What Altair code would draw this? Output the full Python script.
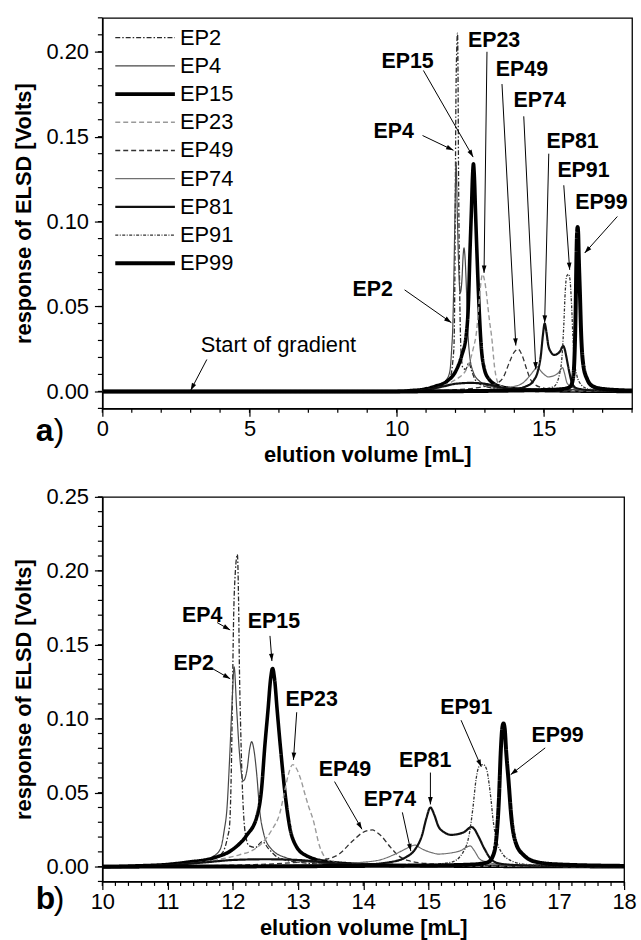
import math
import altair as alt
import pandas as pd

FONT = "Liberation Sans"

# ---------------- data ----------------
series_names = ["EP2", "EP4", "EP15", "EP23", "EP49", "EP74", "EP81", "EP91", "EP99"]

ep2_x = [0, 10, 11.0, 11.5, 11.7, 11.85, 11.92, 11.95, 11.98, 11.995, 12.01, 12.04, 12.07, 12.09,
         12.10, 12.12, 12.15, 12.19, 12.25, 12.35, 12.45, 12.55, 12.7, 13.0, 13.5, 14.5, 18]
ep2_y = [0, 0, 0.001, 0.003, 0.005, 0.01, 0.02, 0.0275, 0.072, 0.117, 0.162, 0.2, 0.211, 0.175,
         0.139, 0.095, 0.05, 0.023, 0.014, 0.013, 0.017, 0.012, 0.006, 0.003, 0.0015, 0.0005, 0]

ep4_x = [0, 10, 11.0, 11.5, 11.7, 11.81, 11.87, 11.91, 11.95, 11.99, 12.02, 12.06, 12.10, 12.16,
         12.22, 12.26, 12.29, 12.32, 12.37, 12.41, 12.47, 12.59, 12.82, 13.2, 13.6, 14.5, 18]
ep4_y = [0, 0, 0.0015, 0.004, 0.007, 0.012, 0.025, 0.039, 0.072, 0.112, 0.135, 0.106, 0.078, 0.058,
         0.066, 0.08, 0.0845, 0.08, 0.061, 0.039, 0.023, 0.012, 0.006, 0.003, 0.0015, 0.0005, 0]

ep15_x = [0, 10, 10.5, 11.0, 11.3, 11.71, 12.01, 12.21, 12.37, 12.44, 12.49, 12.54, 12.58, 12.61,
          12.64, 12.68, 12.73, 12.80, 12.87, 12.97, 13.13, 13.5, 14.0, 15.0, 18]
ep15_y = [0, 0, 0.0005, 0.0015, 0.003, 0.006, 0.012, 0.021, 0.034, 0.052, 0.081, 0.106, 0.127, 0.134,
          0.127, 0.106, 0.081, 0.05, 0.0275, 0.014, 0.0074, 0.003, 0.0015, 0.0005, 0]

ep23_x = [0, 10, 11.0, 11.8, 12.1, 12.3, 12.45, 12.6, 12.72, 12.8, 12.85, 12.92, 12.98, 13.05,
          13.10, 13.16, 13.23, 13.33, 13.48, 13.7, 14.5, 18]
ep23_y = [0, 0, 0.001, 0.005, 0.008, 0.011, 0.016, 0.025, 0.036, 0.052, 0.062, 0.069, 0.066, 0.058,
          0.05, 0.041, 0.032, 0.014, 0.004, 0.002, 0.001, 0]

ep49_x = [0, 10, 12.0, 13.0, 13.43, 13.63, 13.84, 13.99, 14.08, 14.14, 14.2, 14.27, 14.42, 14.54,
          14.7, 15.0, 15.5, 18]
ep49_y = [0, 0, 0.001, 0.003, 0.005, 0.0085, 0.0175, 0.023, 0.0245, 0.0248, 0.0235, 0.021, 0.013, 0.0074,
          0.004, 0.002, 0.001, 0]

ep74_x = [0, 10, 13.0, 14.0, 14.29, 14.49, 14.65, 14.74, 14.80, 14.86, 14.95, 15.05, 15.15, 15.3,
          15.4, 15.5, 15.6, 15.64, 15.7, 15.79, 15.91, 16.1, 16.5, 18]
ep74_y = [0, 0, 0.001, 0.003, 0.005, 0.0085, 0.012, 0.014, 0.0146, 0.013, 0.011, 0.0095, 0.0085, 0.009,
          0.0097, 0.011, 0.0135, 0.014, 0.011, 0.005, 0.003, 0.0015, 0.0005, 0]

ep81_x = [0, 10, 11.0, 11.6, 12.0, 12.5, 13.0, 13.5, 14.0, 14.4, 14.65, 14.8, 14.9, 14.97, 15.03,
          15.09, 15.15, 15.25, 15.35, 15.45, 15.55, 15.66, 15.71, 15.76, 15.86, 15.96, 16.1, 16.5, 18]
ep81_y = [0, 0, 0.001, 0.003, 0.0045, 0.005, 0.0045, 0.0025, 0.0015, 0.003, 0.0063, 0.012, 0.021, 0.033, 0.040,
          0.035, 0.0275, 0.023, 0.0215, 0.022, 0.0235, 0.0268, 0.025, 0.021, 0.012, 0.005, 0.002, 0.0008, 0]

ep91_x = [0, 10, 14.0, 15.0, 15.35, 15.53, 15.63, 15.68, 15.73, 15.78, 15.84, 15.89, 15.93, 15.96,
          15.99, 16.04, 16.12, 16.27, 16.5, 17.0, 18]
ep91_y = [0, 0, 0.0008, 0.0015, 0.003, 0.0097, 0.023, 0.039, 0.059, 0.068, 0.069, 0.066, 0.056, 0.045,
          0.032, 0.0186, 0.0097, 0.004, 0.0015, 0.0005, 0]

ep99_x = [0, 10, 15.0, 15.7, 15.91, 15.99, 16.04, 16.08, 16.11, 16.13, 16.15, 16.17, 16.19, 16.23,
          16.27, 16.34, 16.47, 16.67, 17.0, 18]
ep99_y = [0, 0, 0.0008, 0.0015, 0.003, 0.0074, 0.0186, 0.045, 0.079, 0.093, 0.0968, 0.093, 0.079, 0.057,
          0.034, 0.016, 0.0074, 0.003, 0.0015, 0.0005]

x_lists = [ep2_x, ep4_x, ep15_x, ep23_x, ep49_x, ep74_x, ep81_x, ep91_x, ep99_x]
y_lists = [ep2_y, ep4_y, ep15_y, ep23_y, ep49_y, ep74_y, ep81_y, ep91_y, ep99_y]

# axis tick values
major_a_x = [0, 5, 10, 15]
minor_a_x = list(range(0, 19))
major_a_y = [0.0, 0.05, 0.10, 0.15, 0.20]
minor_a_y = [round(-0.01 + 0.01 * i, 2) for i in range(24)]
major_b_x = list(range(10, 19))
minor_b_x = [round(10 + 0.2 * i, 1) for i in range(41)]
major_b_y = [0.0, 0.05, 0.10, 0.15, 0.20, 0.25]
minor_b_y = [round(-0.01 + 0.01 * i, 2) for i in range(27)]

# annotations of panel a (label, text centre, arrow start, arrow tip)
ann_a_label = ["EP15", "EP23", "EP49", "EP74", "EP81", "EP91", "EP99", "EP4", "EP2"]
ann_a_tx = [10.37, 13.31, 14.26, 14.86, 15.98, 16.35, 16.96, 9.90, 9.19]
ann_a_ty = [0.194, 0.2065, 0.189, 0.171, 0.147, 0.1296, 0.111, 0.153, 0.0598]
ann_a_sx = [10.91, 13.07, 13.58, 14.32, 15.17, 15.68, 17.5, 10.88, 10.27]
ann_a_sy = [0.189, 0.200, 0.181, 0.162, 0.140, 0.1214, 0.103, 0.1507, 0.0598]
ann_a_ex = [12.60, 12.97, 14.05, 14.73, 15.03, 15.88, 16.39, 11.93, 11.86]
ann_a_ey = [0.138, 0.0698, 0.027, 0.0129, 0.0405, 0.0716, 0.0815, 0.142, 0.0405]

grad_label = ["Start of gradient"]
grad_tx = [3.34]
grad_ty = [0.0276]
grad_sx = [3.55]
grad_sy = [0.0188]
grad_ex = [3.0]
grad_ey = [0.0006]

# annotations of panel b
ann_b_label = ["EP4", "EP15", "EP2", "EP23", "EP49", "EP74", "EP81", "EP91", "EP99"]
ann_b_tx = [11.53, 12.63, 11.40, 13.21, 13.72, 14.41, 14.95, 15.58, 16.98]
ann_b_ty = [0.1695, 0.1655, 0.137, 0.1125, 0.0655, 0.0447, 0.0716, 0.107, 0.0884]
ann_b_sx = [11.76, 12.57, 11.66, 12.98, 13.56, 14.60, 15.03, 15.50, 16.79]
ann_b_sy = [0.165, 0.156, 0.1346, 0.1044, 0.0575, 0.0367, 0.0636, 0.099, 0.0803]
ann_b_ex = [11.96, 12.60, 11.96, 12.93, 13.98, 14.73, 15.03, 15.81, 16.26]
ann_b_ey = [0.160, 0.139, 0.127, 0.0722, 0.0253, 0.0105, 0.0421, 0.0675, 0.0622]

# ---------------- styles ----------------
line_colors = ["#2a2a2a", "#474747", "#000000", "#9a9a9a", "#333333", "#707070", "#111111", "#333333", "#000000"]
line_widths = [1.3, 1.2, 3.6, 1.4, 1.3, 1.2, 2.2, 1.3, 4.0]
line_dashes = [[5, 2, 1.5, 2], [1, 0], [1, 0], [5, 3], [5, 3], [1, 0], [1, 0], [3, 1.5, 1, 1.5], [1, 0]]

W_A, H_A = 533, 393
W_B, H_B = 525, 387
XDOM_A, YDOM_A = [0, 18], [-0.01, 0.22]
XDOM_B, YDOM_B = [10, 18], [-0.01, 0.25]

ARROW = "M0,0L-0.45,1.4L0.45,1.4Z"


def series_frame():
    rows = []
    for name, xs, ys in zip(series_names, x_lists, y_lists):
        for xv, yv in zip(xs, ys):
            rows.append({"series": name, "x": xv, "y": yv})
    return pd.DataFrame(rows)


def ann_frame(label, tx, ty, sx, sy, ex, ey, kx, ky):
    angs = []
    for a, b, c, d in zip(sx, sy, ex, ey):
        dx = (c - a) * kx
        dy = -(d - b) * ky
        angs.append(math.degrees(math.atan2(dx, -dy)) % 360)
    return pd.DataFrame({"label": label, "tx": tx, "ty": ty, "sx": sx, "sy": sy,
                         "ex": ex, "ey": ey, "ang": angs})


def style_enc():
    return dict(
        color=alt.Color("series:N", scale=alt.Scale(domain=series_names, range=line_colors), legend=None),
        strokeDash=alt.StrokeDash("series:N", scale=alt.Scale(type="ordinal", domain=series_names,
                                                              range=line_dashes), legend=None),
        strokeWidth=alt.StrokeWidth("series:N", scale=alt.Scale(type="ordinal", domain=series_names,
                                                                range=line_widths), legend=None),
    )


def panel(xdom, ydom, xmaj, xmin, ymaj, ymin, w, h, ann_df, grad_df, tag, tag_dy, with_legend):
    xaxis = alt.Axis(values=xmaj, title="elution volume [mL]", format="d", tickSize=8,
                     labelFlush=False, labelOverlap=False, grid=False, labelPadding=2, titlePadding=5)
    yaxis = alt.Axis(values=ymaj, title="response of ELSD [Volts]", format=".2f", tickSize=8,
                     labelFlush=False, labelOverlap=False, grid=False, labelPadding=6, titlePadding=10)
    xs = alt.Scale(domain=xdom, nice=False, zero=False)
    ys = alt.Scale(domain=ydom, nice=False, zero=False)

    lines = alt.Chart(series_frame()).mark_line(interpolate="monotone", clip=True).encode(
        x=alt.X("x:Q", scale=xs, axis=xaxis),
        y=alt.Y("y:Q", scale=ys, axis=yaxis),
        **style_enc(),
    )

    layers = [lines]

    # minor ticks (outside the plot, on the scale positions)
    layers.append(alt.Chart(pd.DataFrame({"v": xmin})).mark_rule(color="black", strokeWidth=1.2).encode(
        x=alt.X("v:Q", scale=xs), y=alt.value(h), y2=alt.value(h + 4.5)))
    layers.append(alt.Chart(pd.DataFrame({"v": ymin})).mark_rule(color="black", strokeWidth=1.2).encode(
        y=alt.Y("v:Q", scale=ys), x=alt.value(-4.5), x2=alt.value(0)))

    frames = [(ann_df, "center")]
    if grad_df is not None:
        frames.append((grad_df, "left"))
    for df, al in frames:
        layers.append(alt.Chart(df).mark_rule(color="black", strokeWidth=1).encode(
            x=alt.X("sx:Q", scale=xs), y=alt.Y("sy:Q", scale=ys), x2="ex:Q", y2="ey:Q"))
        layers.append(alt.Chart(df).mark_point(shape=ARROW, filled=True, size=110, color="black",
                                               opacity=1, strokeWidth=0).encode(
            x=alt.X("ex:Q", scale=xs), y=alt.Y("ey:Q", scale=ys),
            angle=alt.Angle("ang:Q", scale=None)))
        layers.append(alt.Chart(df).mark_text(font=FONT, fontSize=21.5 if al == "center" else 22,
                                              fontWeight="bold" if al == "center" else "normal",
                                              align=al, baseline="middle", color="black").encode(
            x=alt.X("tx:Q", scale=xs), y=alt.Y("ty:Q", scale=ys), text="label:N"))

    layers.append(alt.Chart(pd.DataFrame({"t": [tag]})).mark_text(
        font=FONT, fontSize=32, fontWeight="bold", align="left", baseline="middle", color="black").encode(
        x=alt.value(-67), y=alt.value(h + tag_dy), text="t:N"))
    layers.append(alt.Chart(pd.DataFrame({"t": [")"]})).mark_text(
        font=FONT, fontSize=32, fontWeight="normal", align="left", baseline="middle", color="black").encode(
        x=alt.value(-49), y=alt.value(h + tag_dy), text="t:N"))

    inner = alt.layer(*layers)
    if not with_legend:
        return inner.properties(width=w, height=h)

    leg_df = pd.DataFrame({"series": series_names})
    ly = alt.Y("series:N", scale=alt.Scale(type="point", domain=series_names, range=[20, 247], padding=0),
               axis=None)
    leg_rule = alt.Chart(leg_df).mark_rule().encode(
        x=alt.value(13), x2=alt.value(73), y=ly, **style_enc())
    leg_text = alt.Chart(leg_df).mark_text(font=FONT, fontSize=22, align="left", baseline="middle",
                                           color="black").encode(
        x=alt.value(78), y=ly, text="series:N")
    return alt.layer(inner, leg_rule, leg_text).resolve_scale(y="independent").properties(width=w, height=h)


ann_a = ann_frame(ann_a_label, ann_a_tx, ann_a_ty, ann_a_sx, ann_a_sy, ann_a_ex, ann_a_ey,
                  W_A / (XDOM_A[1] - XDOM_A[0]), H_A / (YDOM_A[1] - YDOM_A[0]))
grad = ann_frame(grad_label, grad_tx, grad_ty, grad_sx, grad_sy, grad_ex, grad_ey,
                 W_A / (XDOM_A[1] - XDOM_A[0]), H_A / (YDOM_A[1] - YDOM_A[0]))
ann_b = ann_frame(ann_b_label, ann_b_tx, ann_b_ty, ann_b_sx, ann_b_sy, ann_b_ex, ann_b_ey,
                  W_B / (XDOM_B[1] - XDOM_B[0]), H_B / (YDOM_B[1] - YDOM_B[0]))

panel_a = panel(XDOM_A, YDOM_A, major_a_x, minor_a_x, major_a_y, minor_a_y, W_A, H_A,
                ann_a, grad, "a", 23, True)
panel_b = panel(XDOM_B, YDOM_B, major_b_x, minor_b_x, major_b_y, minor_b_y, W_B, H_B,
                ann_b, None, "b", 18, False)

chart = alt.vconcat(panel_a, panel_b, spacing=19).configure(
    padding={"left": 12, "top": 13, "right": 4, "bottom": 2},
    background="white",
).configure_view(
    stroke="black", strokeWidth=1.3,
).configure_axis(
    domainColor="black", domainWidth=1.5, tickColor="black", tickWidth=1.2,
    labelFont=FONT, labelFontSize=22, labelColor="black",
    titleFont=FONT, titleFontSize=22, titleFontWeight="bold", titleColor="black",
)

chart.save("out.html", embed_options={"renderer": "svg", "actions": False})
